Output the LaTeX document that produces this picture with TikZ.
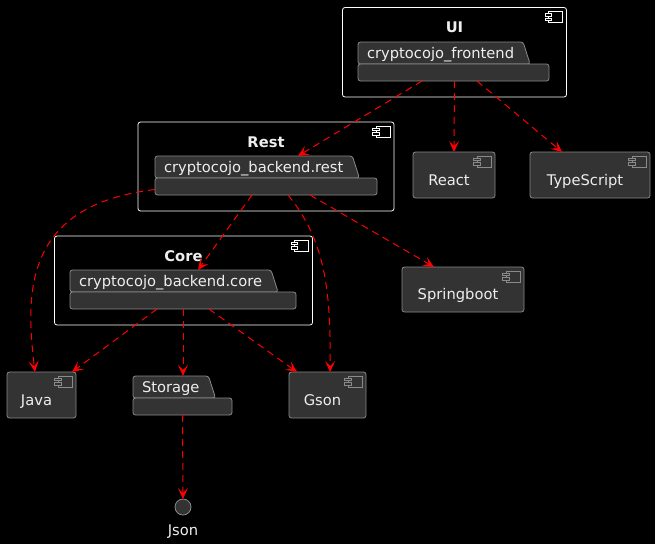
\documentclass[tikz,border=0pt]{standalone}
\usepackage{fontspec}
\setmainfont{DejaVu Sans}
\usetikzlibrary{arrows.meta}
\usetikzlibrary{shapes.geometric}

\definecolor{boxfill}{HTML}{333333}
\definecolor{boxline}{HTML}{8A8A8A}
\definecolor{txt}{HTML}{EEEEEE}

\tikzset{
  every node/.style={font=\fontsize{14.7pt}{17pt}\selectfont, text=txt, outer sep=0pt},
  frame/.style={draw=white, fill=black, rounded corners=2.5pt, line width=0.8pt, anchor=north west},
  title/.style={font=\fontsize{14.7pt}{17pt}\selectfont\bfseries},
  comp/.style={draw=boxline, fill=boxfill, rounded corners=2.5pt, line width=0.8pt, anchor=north west,
    text height=20pt, text depth=0pt, execute at end node=\hspace{10pt}},
  tab/.style={trapezium, trapezium left angle=90, trapezium right angle=72.3, draw=boxline, fill=boxfill,
    rounded corners=2.5pt, line width=0.8pt, inner xsep=9pt, inner ysep=4pt, text height=12pt,
    text depth=2pt, anchor=bottom left corner},
  body/.style={draw=boxline, fill=boxfill, rounded corners=2.5pt, line width=0.8pt, anchor=north west,
    minimum height=17pt},
  dep/.style={red, line width=1pt, dash pattern=on 7pt off 5pt, -{Stealth[length=11pt,width=10pt,inset=5pt]}},
  icon/.pic={
    \path[pic actions] (-18,4) rectangle (-4,15);
    \path[pic actions] (-21.5,6) rectangle (-15,8.5) (-21.5,10.5) rectangle (-15,13);
  }
}

\begin{document}
\begin{tikzpicture}[x=1pt, y=-1pt]
  \fill[black] (0,0) rectangle (655,544);
  \useasboundingbox (0,0) rectangle (655,544);

  % frames
  \node[frame, minimum width=224pt, minimum height=89.5pt] (ui) at (342.5,7.5) {};
  \node[title] (ui-title) at (454.5,27) {UI};
  \pic[draw=white, fill=black, line width=0.8pt] at (ui.north east) {icon};

  \node[frame, minimum width=256pt, minimum height=89pt] (restbox) at (138,122) {};
  \node[title] (rest-title) at (266,142) {Rest};
  \pic[draw=white, fill=black, line width=0.8pt] at (restbox.north east) {icon};

  \node[frame, minimum width=258pt, minimum height=89pt] (corebox) at (54.5,236) {};
  \node[title] (core-title) at (183.5,256) {Core};
  \pic[draw=white, fill=black, line width=0.8pt] at (corebox.north east) {icon};

  % packages
  \node[tab] (fe-tab) at (358,64) {cryptocojo\_frontend};
  \node[body, minimum width=191pt] (fe) at (358,64) {};
  \node[tab] (rest-tab) at (155,178) {cryptocojo\_backend.rest};
  \node[body, minimum width=222pt] (rest) at (155,178) {};
  \node[tab] (core-tab) at (70,292) {cryptocojo\_backend.core};
  \node[body, minimum width=226pt] (core) at (70,292) {};
  \node[tab] (st-tab) at (133,398) {Storage};
  \node[body, minimum width=99pt] (st) at (133,398) {};

  % components
  \node[comp, minimum width=82pt, minimum height=46pt] (react) at (413,152) {React};
  \pic[draw=boxline, fill=boxfill, line width=0.8pt] at (react.north east) {icon};
  \node[comp, minimum width=120pt, minimum height=46pt] (ts) at (530,152) {TypeScript};
  \pic[draw=boxline, fill=boxfill, line width=0.8pt] at (ts.north east) {icon};
  \node[comp, minimum width=122pt, minimum height=45pt] (spring) at (402,267) {Springboot};
  \pic[draw=boxline, fill=boxfill, line width=0.8pt] at (spring.north east) {icon};
  \node[comp, minimum width=69pt, minimum height=46pt] (java) at (7,372) {Java};
  \pic[draw=boxline, fill=boxfill, line width=0.8pt] at (java.north east) {icon};
  \node[comp, minimum width=77pt, minimum height=46pt] (gson) at (289,372) {Gson};
  \pic[draw=boxline, fill=boxfill, line width=0.8pt] at (gson.north east) {icon};

  \node[circle, draw=boxline, fill=boxfill, line width=0.8pt, minimum size=16pt, inner sep=0pt] (json) at (183,507) {};
  \node (json-name) at (183,532) {Json};

  % dependencies
  \draw[dep] ([xshift=-31.5pt]fe.south) -- ([xshift=143pt]rest-tab.top left corner);
  \draw[dep] ([xshift=1pt]fe.south) -- (react.north);
  \draw[dep] ([xshift=23.5pt]fe.south) -- ([xshift=-28pt]ts.north);
  \draw[dep] ([xshift=-14pt]rest.south) -- ([xshift=128pt]core-tab.top left corner);
  \draw[dep] ([yshift=-3pt]rest.west) .. controls (25,205) and (25,290) .. ([xshift=-6.5pt]java.north);
  \draw[dep] ([xshift=22pt]rest.south) .. controls (325,240) and (331,290) .. ([xshift=2.5pt]gson.north);
  \draw[dep] ([xshift=44pt]rest.south) -- ([xshift=-29pt]spring.north);
  \draw[dep] ([xshift=-26pt]core.south) -- ([xshift=30.5pt]java.north);
  \draw[dep] (core.south) -- ([xshift=50pt]st-tab.top left corner);
  \draw[dep] ([xshift=26pt]core.south) -- ([xshift=-30.5pt]gson.north);
  \draw[dep] (st.south) -- (json.north);
\end{tikzpicture}
\end{document}
